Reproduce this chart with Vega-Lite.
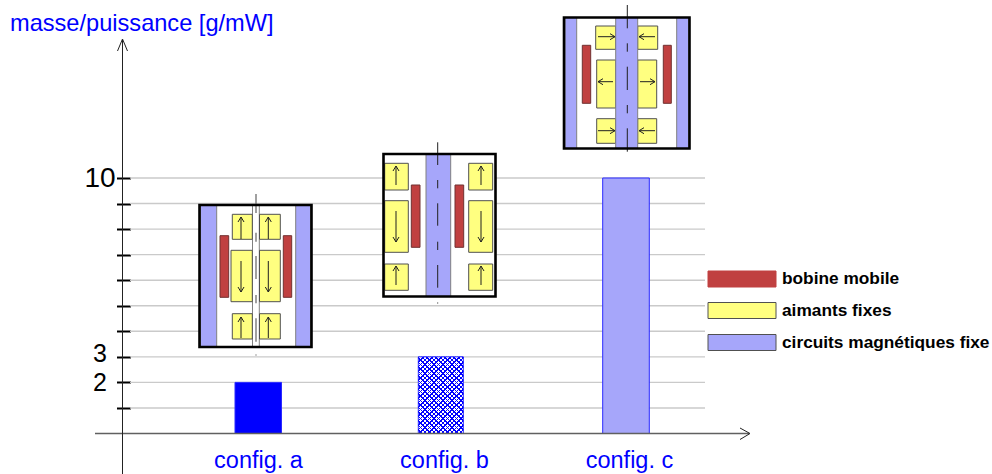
{
"$schema":"https://vega.github.io/schema/vega-lite/v6.json",
"width":992,"height":474,"padding":0,"autosize":{"type":"none"},"background":"white",
"config":{"view":{"stroke":null},"font":"Liberation Sans"},
"datasets":{
"grille":[{"valeur":1,"debut":130,"fin":705},{"valeur":2,"debut":130,"fin":705},{"valeur":3,"debut":130,"fin":705},{"valeur":4,"debut":130,"fin":705},{"valeur":5,"debut":130,"fin":705},{"valeur":6,"debut":130,"fin":705},{"valeur":7,"debut":130,"fin":705},{"valeur":8,"debut":130,"fin":705},{"valeur":9,"debut":130,"fin":705},{"valeur":10,"debut":130,"fin":705}],
"barres":[{"config":"config. a","debut":235,"fin":281.5,"valeur":2,"base":0},{"config":"config. b","debut":418.3,"fin":463.3,"valeur":3,"base":0},{"config":"config. c","debut":602.7,"fin":649.3,"valeur":10,"base":0}],
"axes":[{"x":95,"x2":749,"y":433.5,"y2":433.5,"axe":"x"},{"x":740,"x2":750,"y":428,"y2":433.5,"axe":"f"},{"x":740,"x2":750,"y":439.5,"y2":433.5,"axe":"f"},{"x":122.5,"x2":122.5,"y":40,"y2":474,"axe":"y"},{"x":117.5,"x2":122.5,"y":51,"y2":39,"axe":"f"},{"x":127.5,"x2":122.5,"y":51,"y2":39,"axe":"f"}],
"cadres":[{"config":"a","x":199.5,"x2":311.5,"y":205,"y2":347},{"config":"b","x":383.5,"x2":495.5,"y":154,"y2":296.5},{"config":"c","x":564,"x2":689.5,"y":17.5,"y2":148.5}],
"pieces":[
{"config":"a","part":"circuits magnétiques fixe","x":200.5,"x2":216.7,"y":205,"y2":347},
{"config":"a","part":"circuits magnétiques fixe","x":295.7,"x2":310.5,"y":205,"y2":347},
{"config":"a","part":"canal","x":252.5,"x2":259.3,"y":205,"y2":347},
{"config":"a","part":"aimants fixes","x":232.3,"x2":252.3,"y":214.3,"y2":239.3},
{"config":"a","part":"aimants fixes","x":259.5,"x2":280.3,"y":214.3,"y2":239.3},
{"config":"a","part":"aimants fixes","x":231,"x2":252.3,"y":250.3,"y2":301.7},
{"config":"a","part":"aimants fixes","x":259.5,"x2":280.3,"y":250.3,"y2":301.7},
{"config":"a","part":"aimants fixes","x":232.3,"x2":252.3,"y":313.7,"y2":339},
{"config":"a","part":"aimants fixes","x":259.5,"x2":280.3,"y":313.7,"y2":339},
{"config":"a","part":"bobine mobile","x":220,"x2":228.7,"y":235.7,"y2":297.3},
{"config":"a","part":"bobine mobile","x":283.3,"x2":291.7,"y":235.7,"y2":297.3},
{"config":"b","part":"circuits magnétiques fixe","x":426,"x2":450.7,"y":154,"y2":296.5},
{"config":"b","part":"aimants fixes","x":384.7,"x2":408.3,"y":163.3,"y2":190},
{"config":"b","part":"aimants fixes","x":468.7,"x2":492.7,"y":163.3,"y2":190},
{"config":"b","part":"aimants fixes","x":384.7,"x2":408.3,"y":200.7,"y2":252.3},
{"config":"b","part":"aimants fixes","x":468.7,"x2":492.7,"y":200.7,"y2":252.3},
{"config":"b","part":"aimants fixes","x":384.7,"x2":408.3,"y":264,"y2":290.3},
{"config":"b","part":"aimants fixes","x":468.7,"x2":492.7,"y":264,"y2":290.3},
{"config":"b","part":"bobine mobile","x":411.3,"x2":420,"y":185,"y2":247.3},
{"config":"b","part":"bobine mobile","x":455,"x2":463.7,"y":185,"y2":247.3},
{"config":"c","part":"circuits magnétiques fixe","x":565,"x2":576.7,"y":17.5,"y2":148.5},
{"config":"c","part":"circuits magnétiques fixe","x":676.7,"x2":688.7,"y":17.5,"y2":148.5},
{"config":"c","part":"aimants fixes","x":595.7,"x2":615.7,"y":26,"y2":49.3},
{"config":"c","part":"aimants fixes","x":637.7,"x2":657.7,"y":26,"y2":49.3},
{"config":"c","part":"aimants fixes","x":596.7,"x2":615.7,"y":60,"y2":108},
{"config":"c","part":"aimants fixes","x":637.7,"x2":656.7,"y":60,"y2":108},
{"config":"c","part":"aimants fixes","x":596.7,"x2":615.7,"y":118.7,"y2":143.3},
{"config":"c","part":"aimants fixes","x":637.7,"x2":656.7,"y":118.7,"y2":143.3},
{"config":"c","part":"circuits magnétiques fixe","x":615.7,"x2":637.7,"y":17.5,"y2":148.5},
{"config":"c","part":"bobine mobile","x":582.3,"x2":590.7,"y":45.3,"y2":103.3},
{"config":"c","part":"bobine mobile","x":663.3,"x2":671.3,"y":45.3,"y2":103.3}
],
"fleches":[
{"x":241,"x2":241,"y":239,"y2":217,"angle":0},{"x":268.3,"x2":268.3,"y":239,"y2":217,"angle":0},
{"x":241,"x2":241,"y":261,"y2":292,"angle":180},{"x":268.3,"x2":268.3,"y":261,"y2":292,"angle":180},
{"x":241,"x2":241,"y":338,"y2":317,"angle":0},{"x":268.3,"x2":268.3,"y":338,"y2":317,"angle":0},
{"x":396,"x2":396,"y":185,"y2":166,"angle":0},{"x":481,"x2":481,"y":185,"y2":166,"angle":0},
{"x":396,"x2":396,"y":211,"y2":242,"angle":180},{"x":481,"x2":481,"y":211,"y2":242,"angle":180},
{"x":396,"x2":396,"y":285,"y2":266,"angle":0},{"x":481,"x2":481,"y":285,"y2":266,"angle":0},
{"x":598,"x2":615,"y":36.7,"y2":36.7,"angle":90},{"x":655,"x2":639,"y":36.7,"y2":36.7,"angle":270},
{"x":613,"x2":598,"y":81.7,"y2":81.7,"angle":270},{"x":640,"x2":655,"y":81.7,"y2":81.7,"angle":90},
{"x":598,"x2":615,"y":130.7,"y2":130.7,"angle":90},{"x":655,"x2":639,"y":130.7,"y2":130.7,"angle":270}
],
"tirets":[
{"config":"a","x":256,"y":194,"y2":213},{"config":"a","x":256,"y":232.7,"y2":241.7},{"config":"a","x":256,"y":256,"y2":279},{"config":"a","x":256,"y":295,"y2":303.3},{"config":"a","x":256,"y":318.3,"y2":341.7},{"config":"a","x":256,"y":354.5,"y2":355.5},
{"config":"b","x":437.7,"y":142.3,"y2":165},{"config":"b","x":437.7,"y":180,"y2":188.3},{"config":"b","x":437.7,"y":203.3,"y2":225.7},{"config":"b","x":437.7,"y":241.7,"y2":250},{"config":"b","x":437.7,"y":265,"y2":287.7},{"config":"b","x":437.7,"y":302.5,"y2":303.5},
{"config":"c","x":627.3,"y":5,"y2":28.3},{"config":"c","x":627.3,"y":43.3,"y2":51.7},{"config":"c","x":627.3,"y":66.7,"y2":90},{"config":"c","x":627.3,"y":105,"y2":113.3},{"config":"c","x":627.3,"y":128.3,"y2":151.7}
],
"legende":[
{"part":"bobine mobile","x":708,"x2":776,"y":271,"y2":287,"tx":782,"ty":279},
{"part":"aimants fixes","x":708,"x2":776,"y":302.5,"y2":318.5,"tx":782,"ty":311},
{"part":"circuits magnétiques fixe","x":708,"x2":776,"y":334.5,"y2":350.5,"tx":782,"ty":343}
]
},
"resolve":{"scale":{"y":"independent"},"axis":{"x":"independent"}},
"layer":[
{"data":{"name":"grille"},"mark":{"type":"rule","color":"#cacaca","strokeWidth":1.4},
 "encoding":{
  "x":{"field":"debut","type":"quantitative","scale":{"domain":[0,992],"nice":false,"zero":false},
   "axis":{"title":null,"orient":"bottom","offset":-40.5,"values":[258,444,629],"grid":false,"ticks":false,"domain":false,"labelPadding":34,"labelBaseline":"alphabetic","labelFontSize":23.5,"labelColor":"#0000ff","labelFont":"Liberation Sans","labelOverlap":false,"labelFlush":false,
    "labelExpr":"datum.value==258?'config. a':datum.value==444?'config. b':'config. c'"}},
  "x2":{"field":"fin"},
  "y":{"field":"valeur","type":"quantitative","scale":{"domain":[-1.585,16.967],"nice":false,"zero":false},
   "axis":{"orient":"left","offset":-130.5,"values":[1,2,3,4,5,6,7,8,9,10],"format":"d","grid":false,"domain":false,"tickSize":14,"tickWidth":2,"tickColor":"#000000","labelPadding":17,"labelAlign":"center","labelBaseline":"middle","labelFontSize":{"condition":{"test":"datum.value==10","value":28},"value":25},"labelOffset":{"condition":{"test":"datum.value==3","value":-3},"value":0},"labelColor":"#000000","labelFont":"Liberation Sans","labelOverlap":false,"labelFlush":false,
    "labelExpr":"indexof([2,3,10],datum.value)>=0?datum.label:''",
    "title":"masse/puissance [g/mW]","titleAngle":0,"titleAlign":"left","titleBaseline":"alphabetic","titleX":-121,"titleY":30,"titleFontSize":23.6,"titleFontWeight":"normal","titleColor":"#0000ff","titleFont":"Liberation Sans"}}
 }},
{"data":{"name":"barres"},"mark":{"type":"rect","stroke":"#2a2aff","strokeWidth":1},
 "encoding":{
  "x":{"field":"debut","type":"quantitative","axis":null},"x2":{"field":"fin"},
  "y":{"field":"valeur","type":"quantitative","scale":{"domain":[-1.585,16.967],"nice":false,"zero":false},"axis":null},"y2":{"field":"base"},
  "fill":{"field":"config","type":"nominal","legend":null,"scale":{"domain":["bobine mobile","aimants fixes","circuits magnétiques fixe","canal","config. a","config. b","config. c"],"range":["#c04040","#ffff80","#a6a6fa","#ffffff","#0000ff","#ffffff","#a6a6fa"]}}
 }},
{"data":{"name":"barres"},"transform":[{"filter":"datum.config==='config. b'"}],
 "layer":[
 {"mark":{"type":"rect","fill":{"gradient":"linear","x1":0,"y1":0,"x2":0.693,"y2":1.18,"stops":[
{"offset":0,"color":"#0000ff"},{"offset":0.013,"color":"#0000ff"},{"offset":0.013,"color":"rgba(0,0,255,0)"},{"offset":0.037,"color":"rgba(0,0,255,0)"},
{"offset":0.037,"color":"#0000ff"},{"offset":0.05,"color":"#0000ff"},{"offset":0.05,"color":"rgba(0,0,255,0)"},{"offset":0.0741,"color":"rgba(0,0,255,0)"},
{"offset":0.0741,"color":"#0000ff"},{"offset":0.0871,"color":"#0000ff"},{"offset":0.0871,"color":"rgba(0,0,255,0)"},{"offset":0.1111,"color":"rgba(0,0,255,0)"},
{"offset":0.1111,"color":"#0000ff"},{"offset":0.1241,"color":"#0000ff"},{"offset":0.1241,"color":"rgba(0,0,255,0)"},{"offset":0.1481,"color":"rgba(0,0,255,0)"},
{"offset":0.1481,"color":"#0000ff"},{"offset":0.1611,"color":"#0000ff"},{"offset":0.1611,"color":"rgba(0,0,255,0)"},{"offset":0.1852,"color":"rgba(0,0,255,0)"},
{"offset":0.1852,"color":"#0000ff"},{"offset":0.1982,"color":"#0000ff"},{"offset":0.1982,"color":"rgba(0,0,255,0)"},{"offset":0.2222,"color":"rgba(0,0,255,0)"},
{"offset":0.2222,"color":"#0000ff"},{"offset":0.2352,"color":"#0000ff"},{"offset":0.2352,"color":"rgba(0,0,255,0)"},{"offset":0.2593,"color":"rgba(0,0,255,0)"},
{"offset":0.2593,"color":"#0000ff"},{"offset":0.2723,"color":"#0000ff"},{"offset":0.2723,"color":"rgba(0,0,255,0)"},{"offset":0.2963,"color":"rgba(0,0,255,0)"},
{"offset":0.2963,"color":"#0000ff"},{"offset":0.3093,"color":"#0000ff"},{"offset":0.3093,"color":"rgba(0,0,255,0)"},{"offset":0.3333,"color":"rgba(0,0,255,0)"},
{"offset":0.3333,"color":"#0000ff"},{"offset":0.3463,"color":"#0000ff"},{"offset":0.3463,"color":"rgba(0,0,255,0)"},{"offset":0.3704,"color":"rgba(0,0,255,0)"},
{"offset":0.3704,"color":"#0000ff"},{"offset":0.3834,"color":"#0000ff"},{"offset":0.3834,"color":"rgba(0,0,255,0)"},{"offset":0.4074,"color":"rgba(0,0,255,0)"},
{"offset":0.4074,"color":"#0000ff"},{"offset":0.4204,"color":"#0000ff"},{"offset":0.4204,"color":"rgba(0,0,255,0)"},{"offset":0.4444,"color":"rgba(0,0,255,0)"},
{"offset":0.4444,"color":"#0000ff"},{"offset":0.4574,"color":"#0000ff"},{"offset":0.4574,"color":"rgba(0,0,255,0)"},{"offset":0.4815,"color":"rgba(0,0,255,0)"},
{"offset":0.4815,"color":"#0000ff"},{"offset":0.4945,"color":"#0000ff"},{"offset":0.4945,"color":"rgba(0,0,255,0)"},{"offset":0.5185,"color":"rgba(0,0,255,0)"},
{"offset":0.5185,"color":"#0000ff"},{"offset":0.5315,"color":"#0000ff"},{"offset":0.5315,"color":"rgba(0,0,255,0)"},{"offset":0.5556,"color":"rgba(0,0,255,0)"},
{"offset":0.5556,"color":"#0000ff"},{"offset":0.5686,"color":"#0000ff"},{"offset":0.5686,"color":"rgba(0,0,255,0)"},{"offset":0.5926,"color":"rgba(0,0,255,0)"},
{"offset":0.5926,"color":"#0000ff"},{"offset":0.6056,"color":"#0000ff"},{"offset":0.6056,"color":"rgba(0,0,255,0)"},{"offset":0.6296,"color":"rgba(0,0,255,0)"},
{"offset":0.6296,"color":"#0000ff"},{"offset":0.6426,"color":"#0000ff"},{"offset":0.6426,"color":"rgba(0,0,255,0)"},{"offset":0.6667,"color":"rgba(0,0,255,0)"},
{"offset":0.6667,"color":"#0000ff"},{"offset":0.6797,"color":"#0000ff"},{"offset":0.6797,"color":"rgba(0,0,255,0)"},{"offset":0.7037,"color":"rgba(0,0,255,0)"},
{"offset":0.7037,"color":"#0000ff"},{"offset":0.7167,"color":"#0000ff"},{"offset":0.7167,"color":"rgba(0,0,255,0)"},{"offset":0.7407,"color":"rgba(0,0,255,0)"},
{"offset":0.7407,"color":"#0000ff"},{"offset":0.7537,"color":"#0000ff"},{"offset":0.7537,"color":"rgba(0,0,255,0)"},{"offset":0.7778,"color":"rgba(0,0,255,0)"},
{"offset":0.7778,"color":"#0000ff"},{"offset":0.7908,"color":"#0000ff"},{"offset":0.7908,"color":"rgba(0,0,255,0)"},{"offset":0.8148,"color":"rgba(0,0,255,0)"},
{"offset":0.8148,"color":"#0000ff"},{"offset":0.8278,"color":"#0000ff"},{"offset":0.8278,"color":"rgba(0,0,255,0)"},{"offset":0.8519,"color":"rgba(0,0,255,0)"},
{"offset":0.8519,"color":"#0000ff"},{"offset":0.8649,"color":"#0000ff"},{"offset":0.8649,"color":"rgba(0,0,255,0)"},{"offset":0.8889,"color":"rgba(0,0,255,0)"},
{"offset":0.8889,"color":"#0000ff"},{"offset":0.9019,"color":"#0000ff"},{"offset":0.9019,"color":"rgba(0,0,255,0)"},{"offset":0.9259,"color":"rgba(0,0,255,0)"},
{"offset":0.9259,"color":"#0000ff"},{"offset":0.9389,"color":"#0000ff"},{"offset":0.9389,"color":"rgba(0,0,255,0)"},{"offset":0.963,"color":"rgba(0,0,255,0)"},
{"offset":0.963,"color":"#0000ff"},{"offset":0.976,"color":"#0000ff"},{"offset":0.976,"color":"rgba(0,0,255,0)"},{"offset":1,"color":"rgba(0,0,255,0)"}
]}},
 "encoding":{"x":{"field":"debut","type":"quantitative","axis":null},"x2":{"field":"fin"},"y":{"field":"valeur","type":"quantitative","scale":{"domain":[-1.585,16.967],"nice":false,"zero":false},"axis":null},"y2":{"field":"base"}}},
 {"mark":{"type":"rect","fill":{"gradient":"linear","x1":1,"y1":0,"x2":0.307,"y2":1.18,"stops":[
{"offset":0,"color":"#0000ff"},{"offset":0.013,"color":"#0000ff"},{"offset":0.013,"color":"rgba(0,0,255,0)"},{"offset":0.037,"color":"rgba(0,0,255,0)"},
{"offset":0.037,"color":"#0000ff"},{"offset":0.05,"color":"#0000ff"},{"offset":0.05,"color":"rgba(0,0,255,0)"},{"offset":0.0741,"color":"rgba(0,0,255,0)"},
{"offset":0.0741,"color":"#0000ff"},{"offset":0.0871,"color":"#0000ff"},{"offset":0.0871,"color":"rgba(0,0,255,0)"},{"offset":0.1111,"color":"rgba(0,0,255,0)"},
{"offset":0.1111,"color":"#0000ff"},{"offset":0.1241,"color":"#0000ff"},{"offset":0.1241,"color":"rgba(0,0,255,0)"},{"offset":0.1481,"color":"rgba(0,0,255,0)"},
{"offset":0.1481,"color":"#0000ff"},{"offset":0.1611,"color":"#0000ff"},{"offset":0.1611,"color":"rgba(0,0,255,0)"},{"offset":0.1852,"color":"rgba(0,0,255,0)"},
{"offset":0.1852,"color":"#0000ff"},{"offset":0.1982,"color":"#0000ff"},{"offset":0.1982,"color":"rgba(0,0,255,0)"},{"offset":0.2222,"color":"rgba(0,0,255,0)"},
{"offset":0.2222,"color":"#0000ff"},{"offset":0.2352,"color":"#0000ff"},{"offset":0.2352,"color":"rgba(0,0,255,0)"},{"offset":0.2593,"color":"rgba(0,0,255,0)"},
{"offset":0.2593,"color":"#0000ff"},{"offset":0.2723,"color":"#0000ff"},{"offset":0.2723,"color":"rgba(0,0,255,0)"},{"offset":0.2963,"color":"rgba(0,0,255,0)"},
{"offset":0.2963,"color":"#0000ff"},{"offset":0.3093,"color":"#0000ff"},{"offset":0.3093,"color":"rgba(0,0,255,0)"},{"offset":0.3333,"color":"rgba(0,0,255,0)"},
{"offset":0.3333,"color":"#0000ff"},{"offset":0.3463,"color":"#0000ff"},{"offset":0.3463,"color":"rgba(0,0,255,0)"},{"offset":0.3704,"color":"rgba(0,0,255,0)"},
{"offset":0.3704,"color":"#0000ff"},{"offset":0.3834,"color":"#0000ff"},{"offset":0.3834,"color":"rgba(0,0,255,0)"},{"offset":0.4074,"color":"rgba(0,0,255,0)"},
{"offset":0.4074,"color":"#0000ff"},{"offset":0.4204,"color":"#0000ff"},{"offset":0.4204,"color":"rgba(0,0,255,0)"},{"offset":0.4444,"color":"rgba(0,0,255,0)"},
{"offset":0.4444,"color":"#0000ff"},{"offset":0.4574,"color":"#0000ff"},{"offset":0.4574,"color":"rgba(0,0,255,0)"},{"offset":0.4815,"color":"rgba(0,0,255,0)"},
{"offset":0.4815,"color":"#0000ff"},{"offset":0.4945,"color":"#0000ff"},{"offset":0.4945,"color":"rgba(0,0,255,0)"},{"offset":0.5185,"color":"rgba(0,0,255,0)"},
{"offset":0.5185,"color":"#0000ff"},{"offset":0.5315,"color":"#0000ff"},{"offset":0.5315,"color":"rgba(0,0,255,0)"},{"offset":0.5556,"color":"rgba(0,0,255,0)"},
{"offset":0.5556,"color":"#0000ff"},{"offset":0.5686,"color":"#0000ff"},{"offset":0.5686,"color":"rgba(0,0,255,0)"},{"offset":0.5926,"color":"rgba(0,0,255,0)"},
{"offset":0.5926,"color":"#0000ff"},{"offset":0.6056,"color":"#0000ff"},{"offset":0.6056,"color":"rgba(0,0,255,0)"},{"offset":0.6296,"color":"rgba(0,0,255,0)"},
{"offset":0.6296,"color":"#0000ff"},{"offset":0.6426,"color":"#0000ff"},{"offset":0.6426,"color":"rgba(0,0,255,0)"},{"offset":0.6667,"color":"rgba(0,0,255,0)"},
{"offset":0.6667,"color":"#0000ff"},{"offset":0.6797,"color":"#0000ff"},{"offset":0.6797,"color":"rgba(0,0,255,0)"},{"offset":0.7037,"color":"rgba(0,0,255,0)"},
{"offset":0.7037,"color":"#0000ff"},{"offset":0.7167,"color":"#0000ff"},{"offset":0.7167,"color":"rgba(0,0,255,0)"},{"offset":0.7407,"color":"rgba(0,0,255,0)"},
{"offset":0.7407,"color":"#0000ff"},{"offset":0.7537,"color":"#0000ff"},{"offset":0.7537,"color":"rgba(0,0,255,0)"},{"offset":0.7778,"color":"rgba(0,0,255,0)"},
{"offset":0.7778,"color":"#0000ff"},{"offset":0.7908,"color":"#0000ff"},{"offset":0.7908,"color":"rgba(0,0,255,0)"},{"offset":0.8148,"color":"rgba(0,0,255,0)"},
{"offset":0.8148,"color":"#0000ff"},{"offset":0.8278,"color":"#0000ff"},{"offset":0.8278,"color":"rgba(0,0,255,0)"},{"offset":0.8519,"color":"rgba(0,0,255,0)"},
{"offset":0.8519,"color":"#0000ff"},{"offset":0.8649,"color":"#0000ff"},{"offset":0.8649,"color":"rgba(0,0,255,0)"},{"offset":0.8889,"color":"rgba(0,0,255,0)"},
{"offset":0.8889,"color":"#0000ff"},{"offset":0.9019,"color":"#0000ff"},{"offset":0.9019,"color":"rgba(0,0,255,0)"},{"offset":0.9259,"color":"rgba(0,0,255,0)"},
{"offset":0.9259,"color":"#0000ff"},{"offset":0.9389,"color":"#0000ff"},{"offset":0.9389,"color":"rgba(0,0,255,0)"},{"offset":0.963,"color":"rgba(0,0,255,0)"},
{"offset":0.963,"color":"#0000ff"},{"offset":0.976,"color":"#0000ff"},{"offset":0.976,"color":"rgba(0,0,255,0)"},{"offset":1,"color":"rgba(0,0,255,0)"}
]}},
 "encoding":{"x":{"field":"debut","type":"quantitative","axis":null},"x2":{"field":"fin"},"y":{"field":"valeur","type":"quantitative","scale":{"domain":[-1.585,16.967],"nice":false,"zero":false},"axis":null},"y2":{"field":"base"}}}
 ]},
{"data":{"name":"axes"},"mark":{"type":"rule"},
 "encoding":{
  "x":{"field":"x","type":"quantitative","axis":null},"x2":{"field":"x2"},
  "y":{"field":"y","type":"quantitative","scale":{"domain":[474,0],"nice":false,"zero":false},"axis":null},"y2":{"field":"y2"},
  "color":{"condition":{"test":"datum.axe==='x'","value":"#606060"},"value":"#222222"},
  "strokeWidth":{"condition":{"test":"datum.axe==='x'","value":1.6},"value":1}
 }},
{"data":{"name":"cadres"},"mark":{"type":"rect","fill":"#ffffff"},
 "encoding":{
  "x":{"field":"x","type":"quantitative","axis":null},"x2":{"field":"x2"},
  "y":{"field":"y","type":"quantitative","scale":{"domain":[474,0],"nice":false,"zero":false},"axis":null},"y2":{"field":"y2"}
 }},
{"data":{"name":"pieces"},"mark":{"type":"rect","strokeWidth":1},
 "encoding":{
  "x":{"field":"x","type":"quantitative","axis":null},"x2":{"field":"x2"},
  "y":{"field":"y","type":"quantitative","scale":{"domain":[474,0],"nice":false,"zero":false},"axis":null},"y2":{"field":"y2"},
  "fill":{"field":"part","type":"nominal","legend":null},
  "stroke":{"field":"part","type":"nominal","legend":null,"scale":{"domain":["bobine mobile","aimants fixes","circuits magnétiques fixe","canal"],"range":["#703030","#505050","#808080","#808080"]}}
 }},
{"data":{"name":"fleches"},"mark":{"type":"rule","color":"#202020","strokeWidth":1},
 "encoding":{
  "x":{"field":"x","type":"quantitative","axis":null},"x2":{"field":"x2"},
  "y":{"field":"y","type":"quantitative","scale":{"domain":[474,0],"nice":false,"zero":false},"axis":null},"y2":{"field":"y2"}
 }},
{"data":{"name":"fleches"},"mark":{"type":"point","shape":"M-.6,1L0,0L.6,1","filled":false,"fillOpacity":0,"size":100,"opacity":1,"color":"#202020","strokeWidth":1},
 "encoding":{
  "x":{"field":"x2","type":"quantitative","axis":null},
  "y":{"field":"y2","type":"quantitative","scale":{"domain":[474,0],"nice":false,"zero":false},"axis":null},
  "angle":{"field":"angle","type":"quantitative","scale":null}
 }},
{"data":{"name":"tirets"},"mark":{"type":"rule"},
 "encoding":{
  "x":{"field":"x","type":"quantitative","axis":null},
  "y":{"field":"y","type":"quantitative","scale":{"domain":[474,0],"nice":false,"zero":false},"axis":null},"y2":{"field":"y2"},
  "color":{"condition":{"test":"datum.config==='a'","value":"#808080"},"value":"#202020"},
  "strokeWidth":{"condition":{"test":"datum.config==='a'","value":1.5},"value":1}
 }},
{"data":{"name":"cadres"},"mark":{"type":"rect","fill":null,"fillOpacity":0,"stroke":"#000000","strokeWidth":2.6},
 "encoding":{
  "x":{"field":"x","type":"quantitative","axis":null},"x2":{"field":"x2"},
  "y":{"field":"y","type":"quantitative","scale":{"domain":[474,0],"nice":false,"zero":false},"axis":null},"y2":{"field":"y2"}
 }},
{"data":{"name":"legende"},"mark":{"type":"rect","strokeWidth":1},
 "encoding":{
  "x":{"field":"x","type":"quantitative","axis":null},"x2":{"field":"x2"},
  "y":{"field":"y","type":"quantitative","scale":{"domain":[474,0],"nice":false,"zero":false},"axis":null},"y2":{"field":"y2"},
  "fill":{"field":"part","type":"nominal","legend":null},
  "stroke":{"condition":{"test":"datum.part==='bobine mobile'","value":"#c04040"},"value":"#505050"}
 }},
{"data":{"name":"legende"},"mark":{"type":"text","align":"left","baseline":"middle","fontWeight":"bold","fontSize":17.3,"font":"Liberation Sans","color":"#000000"},
 "encoding":{
  "x":{"field":"tx","type":"quantitative","axis":null},
  "y":{"field":"ty","type":"quantitative","scale":{"domain":[474,0],"nice":false,"zero":false},"axis":null},
  "text":{"field":"part","type":"nominal"}
 }}
]
}
